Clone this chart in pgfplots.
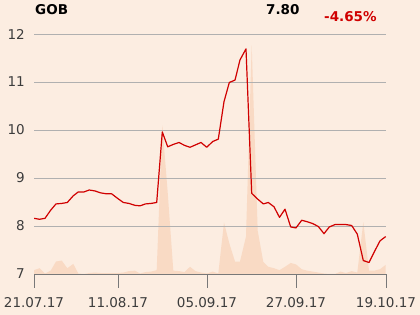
\documentclass[border=0pt]{standalone}
\usepackage{pgfplots}
\pgfplotsset{compat=1.18}
\usepackage{pgfplotstable}
\usepackage{fontspec}
\setmainfont{DejaVu Sans}
\definecolor{bg}{RGB}{252,237,225}
\definecolor{vol}{RGB}{249,218,196}
\definecolor{linered}{RGB}{208,0,0}
\definecolor{gridgray}{RGB}{176,176,176}
\definecolor{axisgray}{RGB}{120,120,120}
\definecolor{ticktext}{RGB}{60,60,60}
\pgfplotstableread{
x p
34 8.16
39.5 8.14
45 8.16
50.7 8.33
56 8.46
61.7 8.47
67.3 8.49
73.3 8.63
78.3 8.71
84 8.71
89.3 8.75
95 8.73
100.7 8.69
106.7 8.67
111.7 8.67
117.3 8.58
123.3 8.49
129 8.47
135 8.43
140 8.42
145.5 8.46
151 8.47
156.7 8.49
162.3 9.96
167.7 9.65
173.3 9.70
179 9.74
184.5 9.68
190 9.64
195.5 9.69
201 9.74
206.7 9.64
212.7 9.76
218.3 9.81
224 10.59
229.3 10.99
235 11.04
240 11.46
246 11.69
251.7 8.68
257.7 8.56
263.3 8.46
268.3 8.49
274 8.40
279.5 8.18
285 8.35
290.7 7.98
296 7.96
301.7 8.12
307 8.09
312.7 8.05
318.3 7.99
324 7.84
329.3 7.98
335 8.03
340.5 8.03
346 8.03
351.7 8.01
357.3 7.83
363.3 7.28
369 7.24
374.5 7.47
380 7.69
385.7 7.78
}\price
\pgfplotstableread{
x v
34 7.00
34 7.08
39.5 7.12
45 7.01
50.7 7.07
56 7.26
61.7 7.28
67.3 7.12
73.3 7.21
78.3 7.01
84 7.00
89.3 7.02
95 7.03
100.7 7.02
106.7 7.02
111.7 7.02
117.3 7.02
123.3 7.03
129 7.06
135 7.07
140 7.01
145.5 7.04
151 7.05
156.7 7.08
162.3 10.10
167.7 8.70
173.3 7.07
179 7.06
184.5 7.04
190 7.15
195.5 7.06
201 7.03
206.7 7.01
212.7 7.05
218.3 7.01
224 8.07
229.3 7.64
235 7.26
240 7.26
246 7.78
251.7 11.77
257.7 7.90
263.3 7.25
268.3 7.15
274 7.12
279.5 7.08
285 7.15
290.7 7.23
296 7.20
301.7 7.10
307 7.07
312.7 7.05
318.3 7.03
324 7.01
329.3 7.00
335 7.00
340.5 7.05
346 7.02
351.7 7.06
357.3 7.03
363.3 8.08
369 7.07
374.5 7.07
380 7.10
385.7 7.19
385.7 7.00
}\volume
\begin{document}
\begin{tikzpicture}
\useasboundingbox[fill=bg] (0,0) rectangle (420bp,315bp);
\begin{axis}[
  at={(34bp,41bp)}, anchor=south west,
  scale only axis, width=352bp, height=240bp,
  xmin=34, xmax=386, ymin=7, ymax=12,
  hide axis,
]
\addplot[fill=vol, draw=none] table[x=x, y=v] {\volume} -- cycle;
\end{axis}
\begin{axis}[
  at={(34bp,41bp)}, anchor=south west,
  scale only axis, width=352bp, height=240bp,
  xmin=34, xmax=386, ymin=7, ymax=12,
  axis x line*=bottom, axis y line*=left,
  x axis line style={draw=axisgray, line width=0.8bp, -},
  y axis line style={draw=none},
  xtick={34,118,207,296,386},
  xticklabels={21.07.17,11.08.17,05.09.17,27.09.17,19.10.17},
  ytick={7,8,9,10,11,12},
  ymajorgrids,
  major grid style={draw=gridgray, line width=0.8bp},
  xtick align=outside,
  xtick style={draw=axisgray, line width=0.8bp},
  major tick length=14bp,
  ytick style={draw=none},
  /pgf/number format/assume math mode=true,
  tick label style={font=\fontsize{13.5bp}{16bp}\selectfont, text=ticktext},
  xticklabel style={inner sep=0pt, anchor=north, yshift=-9bp},
  yticklabel style={inner sep=0pt, anchor=east, xshift=-9bp},
]
\addplot[linered, line width=1.2bp, line join=round] table[x=x, y=p] {\price};
\end{axis}
\node[anchor=base west, inner sep=0pt, font=\fontsize{13.5bp}{16bp}\selectfont\bfseries] at (35bp,300bp) {GOB};
\node[anchor=base west, inner sep=0pt, font=\fontsize{13.5bp}{16bp}\selectfont\bfseries] at (266bp,300.7bp) {7.80};
\node[anchor=base west, inner sep=0pt, font=\fontsize{13.5bp}{16bp}\selectfont\bfseries, text=linered] at (324bp,293.3bp) {-4.65\%};
\end{tikzpicture}
\end{document}
